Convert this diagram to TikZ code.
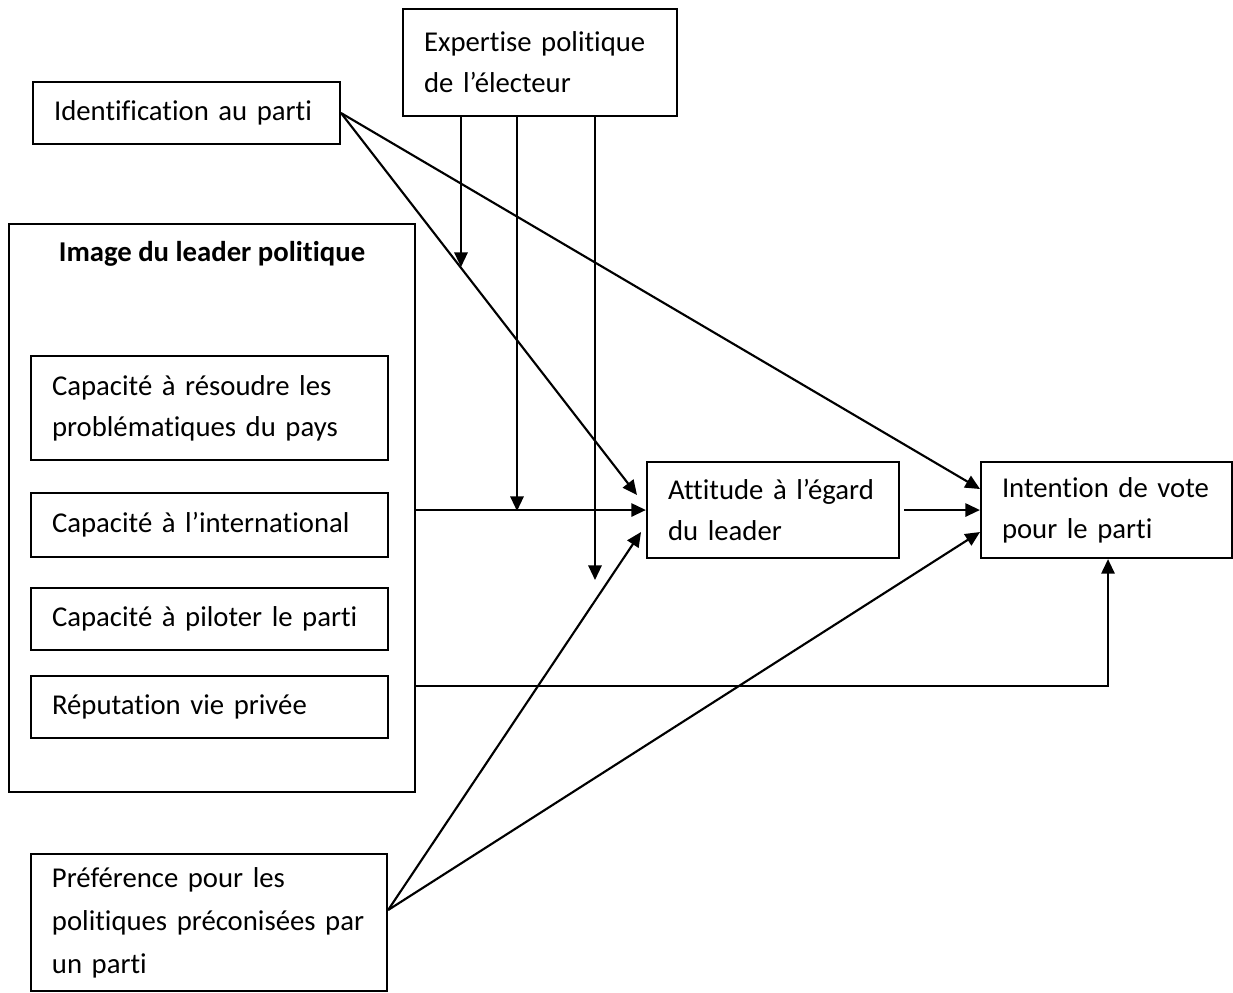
\documentclass[tikz,border=0pt]{standalone}
\usepackage{fontspec}
\setmainfont{Carlito}[Ligatures=NoCommon]
\usetikzlibrary{arrows.meta}
\begin{document}
\begin{tikzpicture}[x=0.376pt,y=-0.376pt,
  box/.style={draw, line width=0.8pt, align=left, inner xsep=7.9pt, inner ysep=0pt, anchor=center,
    font=\fontsize{10.8pt}{15.5pt}\selectfont},
  arr/.style={line width=0.8pt, -{Triangle[length=5.5pt,width=5pt]}},
  titlestyle/.style={font=\fontsize{10.8pt}{15.5pt}\selectfont\bfseries, inner sep=0pt}]
\useasboundingbox (0,0) rectangle (1233,992);

% boxes
\node[box, minimum width=103.0pt, minimum height=40.2pt, text width=87.2pt] (expert) at (540,62.5)
  {\mbox{Expertise politique}\\\mbox{de l’électeur}};
\node[box, minimum width=115.4pt, minimum height=23.3pt, text width=99.6pt] (ident) at (186.5,113)
  {\mbox{Identification au parti}};
\node[box, minimum width=152.7pt, minimum height=213.6pt] (image) at (212,508) {};
\node[titlestyle] (imgtitle) at (212,254) {Image du leader politique};
\node[box, minimum width=134.2pt, minimum height=39.1pt, text width=118.4pt] (cap1) at (209.5,408)
  {\mbox{Capacité à résoudre les}\\\mbox{problématiques du pays}};
\node[box, minimum width=134.2pt, minimum height=24.1pt, text width=118.4pt] (cap2) at (209.5,525)
  {\mbox{Capacité à l’international}};
\node[box, minimum width=134.2pt, minimum height=23.3pt, text width=118.4pt] (cap3) at (209.5,619)
  {\mbox{Capacité à piloter le parti}};
\node[box, minimum width=134.2pt, minimum height=23.3pt, text width=118.4pt] (rep) at (209.5,707)
  {\mbox{Réputation vie privée}};
\node[box, minimum width=133.9pt, minimum height=51.5pt, text width=118.1pt,
  font=\fontsize{10.8pt}{16.2pt}\selectfont] (pref) at (209,922.5)
  {\mbox{Préférence pour les}\\\mbox{politiques préconisées par}\\\mbox{un parti}};
\node[box, minimum width=94.8pt, minimum height=36.1pt, text width=78.9pt] (att) at (773,510)
  {\mbox{Attitude à l’égard}\\\mbox{du leader}};
\node[box, minimum width=94.4pt, minimum height=36.1pt, text width=78.6pt] (intent) at (1106.5,510)
  {\mbox{Intention de vote}\\\mbox{pour le parti}};

% connector end points
\coordinate (m1) at (461,267);
\coordinate (m2) at (517,511);
\coordinate (m3) at (595,580);
\coordinate (ia) at (637,495);
\coordinate (ii) at (980,489);
\coordinate (pa) at (641,532);
\coordinate (pi) at (980,532);
\coordinate (cr) at (1108,686);

% connectors
\draw[arr] (expert.south -| m1) -- (m1);
\draw[arr] (expert.south -| m2) -- (m2);
\draw[arr] (expert.south -| m3) -- (m3);
\draw[arr] (ident.east) -- (ia);
\draw[arr] (ident.east) -- (ii);
\draw[arr] (image.east |- att.west) -- (att.west);
\draw[arr] ([xshift=1.5pt]att.east) -- (intent.west);
\draw[arr] ([yshift=4.7pt]pref.east) -- (pa);
\draw[arr] ([yshift=4.7pt]pref.east) -- (pi);
\draw[arr] (image.east |- cr) -- (cr) -- (intent.south -| cr);
\end{tikzpicture}
\end{document}
